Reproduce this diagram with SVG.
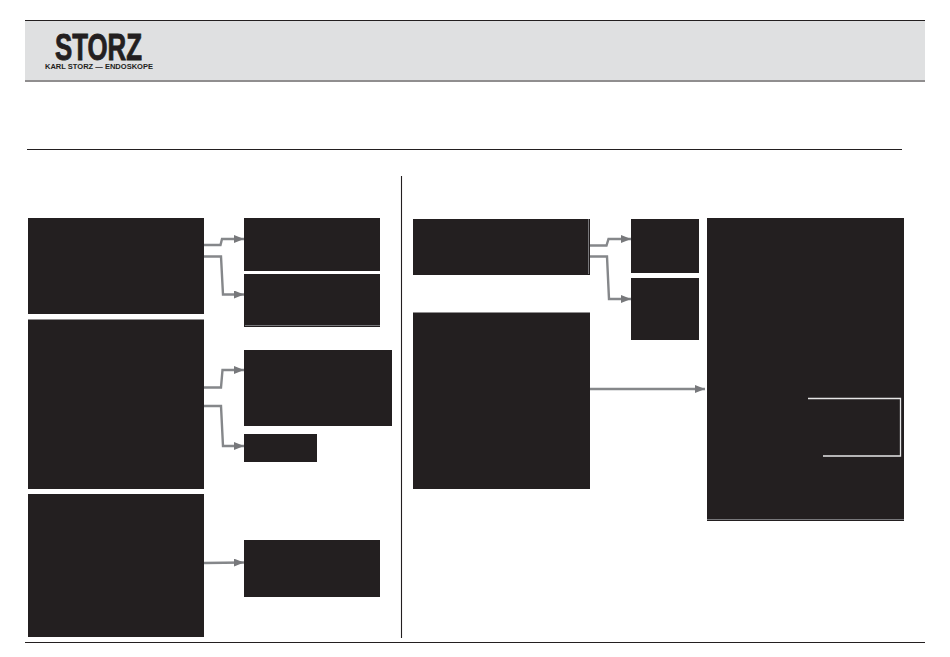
<svg xmlns="http://www.w3.org/2000/svg" width="950" height="657" viewBox="0 0 950 657">
<style>
.box{fill:#231f20}
.rule{stroke:#231f20;fill:none}
.conn{stroke:#85878a;stroke-width:2.4;fill:none;marker-end:url(#arrow)}
.logo{font-family:"Liberation Sans",Arial,sans-serif;font-weight:700;fill:#231f20}
.inner{stroke:#e6e6e6;stroke-width:1.3;fill:none}
.edge{stroke:#77777a;stroke-width:1;fill:none}
</style>
<defs>
<marker id="arrow" markerUnits="userSpaceOnUse" markerWidth="10" markerHeight="8" refX="10" refY="4" orient="auto">
<path d="M0 0L10 4L0 8Z" fill="#77787b"/>
</marker>
</defs>
<rect width="950" height="657" fill="#fff"/>
<g id="header">
<rect x="25" y="21" width="900" height="59" fill="#dfe0e1"/>
<path class="rule" stroke-width="1.2" d="M25 20.500H925M25 81H925"/>
<text class="logo" x="55" y="60" font-size="37" stroke="#231f20" stroke-width="0.9" textLength="87" lengthAdjust="spacingAndGlyphs">STORZ</text>
<text class="logo" x="45" y="69" font-size="8" textLength="108" lengthAdjust="spacingAndGlyphs">KARL STORZ — ENDOSKOPE</text>
</g>
<g id="rules">
<path class="rule" stroke-width="1.1" d="M27 149.500H902M25 642.500H925M401.500 176V638"/>
</g>
<g id="connectors">
<path class="conn" d="M204 245H220.500L222 239H244"/>
<path class="conn" d="M204 256.500H221L223 294.500H244"/>
<path class="conn" d="M204 387.500H221L222.500 370H244"/>
<path class="conn" d="M204 406H221L223 446H244"/>
<path class="conn" d="M204 563L244 562.500"/>
<path class="conn" d="M590 245.500H606.500L608.500 239H631"/>
<path class="conn" d="M590 256.500H607L609 299H631"/>
<path class="conn" d="M590 389H705"/>
</g>
<g id="node-l1"><rect class="box" x="28" y="218" width="176" height="96"/></g>
<g id="node-l2"><rect class="box" x="28" y="319.500" width="176" height="169.500"/></g>
<g id="node-l3"><rect class="box" x="28" y="494" width="176" height="143"/></g>
<g id="node-m1"><rect class="box" x="244" y="218" width="136" height="53"/></g>
<g id="node-m2"><rect class="box" x="244" y="274" width="136" height="53"/><path class="edge" d="M245 325.500H380"/></g>
<g id="node-m3"><rect class="box" x="244" y="350" width="148" height="76"/></g>
<g id="node-m4"><rect class="box" x="244" y="434" width="73" height="28"/></g>
<g id="node-m5"><rect class="box" x="244" y="540" width="136" height="57"/></g>
<g id="node-r1"><rect class="box" x="413" y="219" width="177" height="56"/><path class="edge" d="M588.500 219V274"/></g>
<g id="node-r2"><rect class="box" x="413" y="312.500" width="177" height="176.500"/></g>
<g id="node-r3"><rect class="box" x="631" y="219" width="68" height="54"/></g>
<g id="node-r4"><rect class="box" x="631" y="278" width="68" height="62"/></g>
<g id="node-r5"><rect class="box" x="707" y="218" width="197" height="303"/><path class="edge" d="M707 519.500H904"/>
<path class="inner" d="M808 398.500H900.500V456H823"/></g>
</svg>
